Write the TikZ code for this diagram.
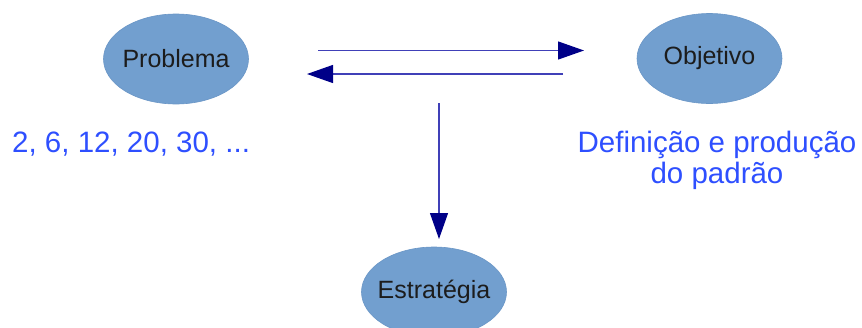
\documentclass[tikz,border=0pt]{standalone}
\usepackage{fontspec}
\setmainfont{Liberation Sans}
\usetikzlibrary{arrows.meta,shapes.geometric}
\definecolor{bubble}{HTML}{729FCF}
\definecolor{bubbleedge}{HTML}{6A96C6}
\definecolor{labeltext}{HTML}{1C1C1C}
\definecolor{notetext}{HTML}{2E4FFF}
\definecolor{linkline}{HTML}{4040B8}
\definecolor{linkhead}{HTML}{000088}
% label of fixed-size zero width so the ellipse keeps its minimum size
\newcommand\bubbletext[1]{\makebox[0pt][c]{#1}}
\tikzset{
  bubblenode/.style={ellipse, fill=bubble, draw=bubbleedge, line width=0.6pt,
    minimum width=145pt, minimum height=90pt, inner sep=0pt,
    text=labeltext, font=\fontsize{25}{28}\selectfont},
  notenode/.style={text=notetext, font=\fontsize{29.5}{31.5}\selectfont, inner sep=0pt},
  link/.style={draw=linkline, line width=1.2pt,
    -{Triangle[length=26pt,width=18pt,fill=linkhead,color=linkhead]}}
}
\begin{document}
\begin{tikzpicture}[x=1pt,y=-1pt]
  \useasboundingbox (0,0) rectangle (862,327);
  % main ideas
  \node[bubblenode] (prob) at (176,59) {\bubbletext{Problema}};
  \node[bubblenode] (obj) at (709.5,58.5) {\bubbletext{Objetivo}};
  \node[bubblenode] (estr) at (434,292) {\bubbletext{Estratégia}};
  % notes under the upper ideas
  \node[notenode, anchor=base west] (seq) at (12,152) {2, 6, 12, 20, 30, ...};
  \node[notenode, anchor=base, align=center] (def) at (717,183.5)
    {Definição e produção\\do padrão};
  % arrow end points
  \coordinate (fwdA) at (318,50.5);
  \coordinate (fwdB) at (584,50.5);
  \coordinate (backA) at (563,74);
  \coordinate (backB) at (307,74);
  \coordinate (downA) at (439,103);
  \coordinate (downB) at (439,239);
  \draw[link] (fwdA) -- (fwdB);
  \draw[link] (backA) -- (backB);
  \draw[link] (downA) -- (downB);
\end{tikzpicture}
\end{document}
